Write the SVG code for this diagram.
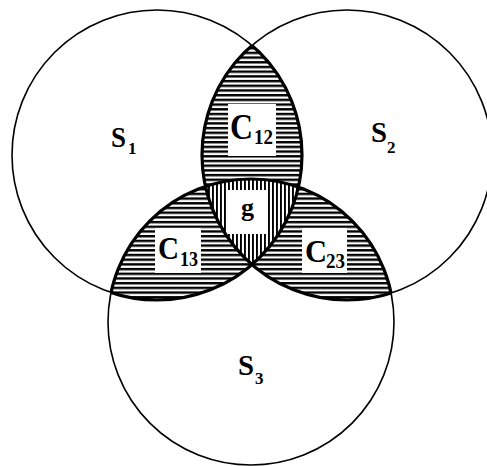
<svg xmlns="http://www.w3.org/2000/svg" width="487" height="466" viewBox="0 0 487 466">
<style>
.circ{fill:none;stroke:#000;stroke-width:1.6}
.edge{fill:none;stroke:#000;stroke-width:3.2}
.box{fill:#fff}
.lbl{font-family:"Liberation Serif","Times New Roman",serif;font-weight:bold;fill:#000}
</style>
<defs>
<pattern id="hh" width="10" height="4.7" patternUnits="userSpaceOnUse"><rect x="0" y="0" width="10" height="2.4" fill="#000"/></pattern>
<pattern id="vv" width="4" height="10" patternUnits="userSpaceOnUse"><rect x="0" y="0" width="1.9" height="10" fill="#000"/></pattern>
<clipPath id="c1"><circle cx="157" cy="155" r="145"/></clipPath>
<clipPath id="c2"><circle cx="347" cy="155" r="145"/></clipPath>
<clipPath id="c3"><circle cx="251" cy="322" r="143"/></clipPath>
<clipPath id="c23u"><circle cx="347" cy="155" r="145"/><circle cx="251" cy="322" r="143"/></clipPath>
<clipPath id="c13u"><circle cx="157" cy="155" r="145"/><circle cx="251" cy="322" r="143"/></clipPath>
<clipPath id="c12u"><circle cx="157" cy="155" r="145"/><circle cx="347" cy="155" r="145"/></clipPath>
<mask id="n1" maskUnits="userSpaceOnUse" x="0" y="0" width="487" height="466"><rect width="487" height="466" fill="#fff"/><circle cx="157" cy="155" r="145" fill="#000"/></mask>
<mask id="n2" maskUnits="userSpaceOnUse" x="0" y="0" width="487" height="466"><rect width="487" height="466" fill="#fff"/><circle cx="347" cy="155" r="145" fill="#000"/></mask>
<mask id="n3" maskUnits="userSpaceOnUse" x="0" y="0" width="487" height="466"><rect width="487" height="466" fill="#fff"/><circle cx="251" cy="322" r="143" fill="#000"/></mask>
</defs>
<rect width="487" height="466" fill="#fff"/>

<g id="C12">
<g clip-path="url(#c1)"><g clip-path="url(#c2)"><rect width="487" height="466" fill="url(#hh)" mask="url(#n3)"/></g></g>
<rect class="box" x="228" y="104" width="48" height="52"/>
<text class="lbl" x="230" y="139" font-size="35" textLength="23" lengthAdjust="spacingAndGlyphs">C</text>
<text class="lbl" x="254" y="144" font-size="21" textLength="19" lengthAdjust="spacingAndGlyphs">12</text>
</g>

<g id="C13">
<g clip-path="url(#c1)"><g clip-path="url(#c3)"><rect width="487" height="466" fill="url(#hh)" mask="url(#n2)"/></g></g>
<rect class="box" x="155" y="228" width="46" height="45"/>
<text class="lbl" x="158" y="259" font-size="31" textLength="21" lengthAdjust="spacingAndGlyphs">C</text>
<text class="lbl" x="180" y="266" font-size="20" textLength="18" lengthAdjust="spacingAndGlyphs">13</text>
</g>

<g id="C23">
<g clip-path="url(#c2)"><g clip-path="url(#c3)"><rect width="487" height="466" fill="url(#hh)" mask="url(#n1)"/></g></g>
<rect class="box" x="302" y="228" width="45" height="45"/>
<text class="lbl" x="305" y="262" font-size="32" textLength="22" lengthAdjust="spacingAndGlyphs">C</text>
<text class="lbl" x="326" y="268" font-size="20" textLength="19" lengthAdjust="spacingAndGlyphs">23</text>
</g>

<g id="g">
<g clip-path="url(#c1)"><g clip-path="url(#c2)"><rect width="487" height="466" fill="url(#vv)" clip-path="url(#c3)"/></g></g>
<rect class="box" x="228" y="190" width="39" height="44"/>
<text class="lbl" x="241" y="216" font-size="26">g</text>
</g>

<g id="connectors">
<circle class="edge" cx="157" cy="155" r="145" clip-path="url(#c23u)"/>
<circle class="edge" cx="347" cy="155" r="145" clip-path="url(#c13u)"/>
<circle class="edge" cx="251" cy="322" r="143" clip-path="url(#c12u)"/>
</g>

<g id="S1">
<circle class="circ" cx="157" cy="155" r="145"/>
<text class="lbl" x="111" y="147" font-size="30" textLength="15" lengthAdjust="spacingAndGlyphs">S</text>
<text class="lbl" x="128" y="154" font-size="17">1</text>
</g>
<g id="S2">
<circle class="circ" cx="347" cy="155" r="145"/>
<text class="lbl" x="371" y="142" font-size="30" textLength="16" lengthAdjust="spacingAndGlyphs">S</text>
<text class="lbl" x="387" y="153" font-size="17">2</text>
</g>
<g id="S3">
<circle class="circ" cx="251" cy="322" r="143"/>
<text class="lbl" x="238" y="375" font-size="30" textLength="16" lengthAdjust="spacingAndGlyphs">S</text>
<text class="lbl" x="255" y="384" font-size="17">3</text>
</g>
</svg>
